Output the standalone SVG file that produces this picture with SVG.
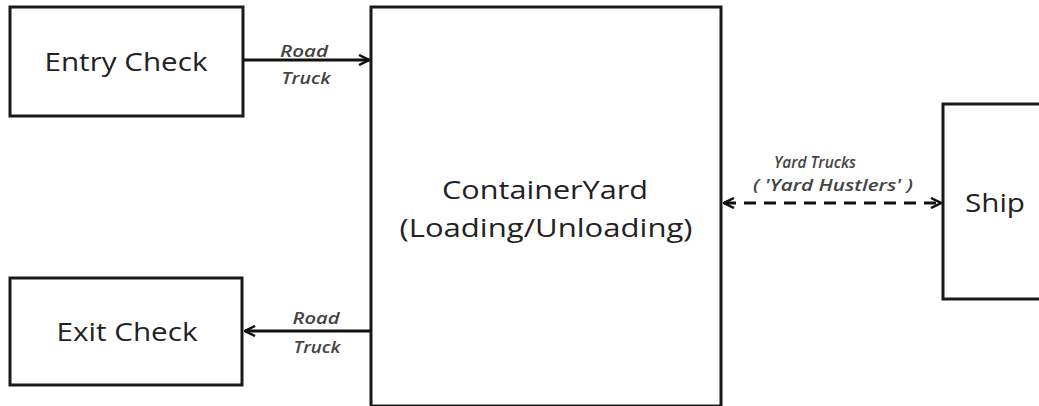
<svg xmlns="http://www.w3.org/2000/svg" width="1039" height="406" viewBox="0 0 1039 406">
<style>
.box{fill:#fff;stroke:#1a1a1a;stroke-width:3}
.lbl{font-family:"Open Sans","Liberation Sans",sans-serif;fill:#222;text-anchor:middle}
.big{font-size:25px}
.sm{font-size:16px;font-style:italic;font-weight:600;fill:#444}
.con{stroke:#111;stroke-width:3;fill:none}
</style>
<defs>
<marker id="ah" viewBox="0 0 12 12" refX="11" refY="6" markerWidth="12" markerHeight="12" markerUnits="userSpaceOnUse" orient="auto-start-reverse">
<path d="M1,1 L11,6 L1,11" fill="none" stroke="#111" stroke-width="2.5"/>
</marker>
</defs>
<g id="entry-check">
<rect class="box" x="10" y="7" width="233" height="109"/>
<text class="lbl big" x="126" y="71" textLength="163" lengthAdjust="spacingAndGlyphs">Entry Check</text>
</g>
<g id="exit-check">
<rect class="box" x="10" y="278" width="232" height="107"/>
<text class="lbl big" x="127" y="341" textLength="141" lengthAdjust="spacingAndGlyphs">Exit Check</text>
</g>
<g id="container-yard">
<rect class="box" x="371" y="7" width="350" height="399"/>
<text class="lbl big" x="545" y="199" textLength="206" lengthAdjust="spacingAndGlyphs">ContainerYard</text>
<text class="lbl big" x="546" y="237" textLength="293" lengthAdjust="spacingAndGlyphs">(Loading/Unloading)</text>
</g>
<g id="ship">
<rect class="box" x="943" y="104" width="110" height="195"/>
<text class="lbl big" x="995" y="212" textLength="60" lengthAdjust="spacingAndGlyphs">Ship</text>
</g>
<g id="connectors">
<line class="con" x1="243" y1="60" x2="369" y2="60" marker-end="url(#ah)"/>
<text class="lbl sm" x="304" y="57" textLength="48" lengthAdjust="spacingAndGlyphs">Road</text>
<text class="lbl sm" x="306" y="84" textLength="49" lengthAdjust="spacingAndGlyphs">Truck</text>
<line class="con" x1="371" y1="331" x2="245" y2="331" marker-end="url(#ah)"/>
<text class="lbl sm" x="316" y="324" textLength="47" lengthAdjust="spacingAndGlyphs">Road</text>
<text class="lbl sm" x="317" y="353" textLength="47" lengthAdjust="spacingAndGlyphs">Truck</text>
<line class="con" x1="724" y1="203" x2="941" y2="203" stroke-dasharray="12,8" marker-start="url(#ah)" marker-end="url(#ah)"/>
<text class="lbl sm" x="815" y="168" textLength="82" lengthAdjust="spacingAndGlyphs">Yard Trucks</text>
<text class="lbl sm" x="833" y="191" textLength="160" lengthAdjust="spacingAndGlyphs">( 'Yard Hustlers' )</text>
</g>
</svg>
